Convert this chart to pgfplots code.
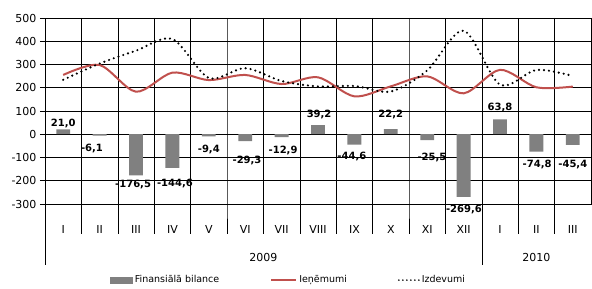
\documentclass[border=0pt]{standalone}
\usepackage{pgfplots}
\pgfplotsset{compat=1.18}
\usepackage{pgfplotstable}
\usepackage{fontspec}
\setmainfont{DejaVu Sans}
\definecolor{redline}{RGB}{192,80,77}
\definecolor{bargray}{RGB}{128,128,128}

\pgfplotstableread{
x    bal     rev   exp
0.5   21.0   255   234.0
1.5   -6.1   298   304.1
2.5 -176.5   183   359.5
3.5 -144.6   265   409.6
4.5   -9.4   233   242.4
5.5  -29.3   255   284.3
6.5  -12.9   216   228.9
7.5   39.2   245   205.8
8.5  -44.6   163   207.6
9.5   22.2   206   183.8
10.5 -25.5   249   274.5
11.5 -269.6  176   445.6
12.5  63.8   277   213.2
13.5 -74.8   202   276.8
14.5 -45.4   205   250.4
}\data

\begin{document}
\begin{tikzpicture}[x=1pt,y=1pt]
\useasboundingbox (0,0) rectangle (592,289);
\begin{axis}[
  at={(45pt,85pt)}, anchor=south west,
  scale only axis, width=546pt, height=186pt,
  xmin=0, xmax=15, ymin=-300, ymax=500,
  clip=false,
  /pgf/number format/assume math mode=true,
  ytick={-300,-200,...,500},
  ymajorgrids, grid style={black, line width=0.6pt},
  ytick pos=left, tick align=outside, major tick length=5pt,
  ytick style={black, line width=0.6pt},
  yticklabel style={font=\fontsize{11}{13}\selectfont},
  xtick={0.5,1.5,...,14.5},
  xticklabels={I,II,III,IV,V,VI,VII,VIII,IX,X,XI,XII,I,II,III},
  xtick pos=bottom,
  xtick style={draw=none},
  xticklabel style={font=\fontsize{11}{13}\selectfont, yshift=-13pt},
  axis line style={black, line width=0.6pt},
  legend columns=3,
  legend style={draw=none, at={(axis description cs:0.113,-0.409)}, anchor=west,
    font=\fontsize{9.5}{10}\selectfont,
    /tikz/every even column/.append style={column sep=49pt}},
]
\pgfplotsinvokeforeach{1,...,14}{
  \draw[black, line width=0.6pt] (axis cs:#1,500) -- (axis cs:#1,-300) -- ++(0pt,-30pt);
}
\draw[black, line width=0.6pt] (axis cs:0,-300) -- ++(0pt,-61pt);
\draw[black, line width=0.6pt] (axis cs:12,-300) -- ++(0pt,-61pt);

\addplot[ybar, bar width=0.38, fill=bargray, draw=none,
  legend image code/.code={\fill[bargray] (0pt,-3.5pt) rectangle (23pt,3.5pt);}]
  table[x=x,y=bal]{\data};
\addlegendentry{Finansiālā bilance}
\addplot[redline, line width=2pt, smooth, mark=none,
  legend image code/.code={\draw[redline, line width=2pt] (0pt,0pt) -- (25pt,0pt);}]
  table[x=x,y=rev]{\data};
\addlegendentry{Ieņēmumi\hspace{6pt}}
\addplot[black, line width=2.4pt, dash pattern=on 0pt off 5pt, line cap=round, smooth, mark=none,
  legend image code/.code={\draw[black, line width=1.8pt, dash pattern=on 0pt off 4pt, line cap=round] (0pt,0pt) -- (20pt,0pt);}]
  table[x=x,y=exp]{\data};
\addlegendentry{Izdevumi}

\begin{scope}[every node/.style={font=\bfseries\fontsize{10}{12}\selectfont, inner sep=0pt}]
\node at (axis cs:0.5,47) {21,0};
\node at (axis cs:1.29,-62) {-6,1};
\node at (axis cs:2.42,-215) {-176,5};
\node at (axis cs:3.57,-210) {-144,6};
\node at (axis cs:4.5,-65) {-9,4};
\node at (axis cs:5.55,-115) {-29,3};
\node at (axis cs:6.54,-70) {-12,9};
\node at (axis cs:7.53,86) {39,2};
\node at (axis cs:8.43,-95) {-44,6};
\node at (axis cs:9.5,86) {22,2};
\node at (axis cs:10.63,-99) {-25,5};
\node at (axis cs:11.51,-323) {-269,6};
\node at (axis cs:12.5,116) {63,8};
\node at (axis cs:13.52,-129) {-74,8};
\node at (axis cs:14.5,-129) {-45,4};
\end{scope}

\node[font=\fontsize{11}{13}\selectfont] at (axis cs:6,-300) [yshift=-53pt] {2009};
\node[font=\fontsize{11}{13}\selectfont] at (axis cs:13.5,-300) [yshift=-53pt] {2010};
\end{axis}
\end{tikzpicture}
\end{document}
